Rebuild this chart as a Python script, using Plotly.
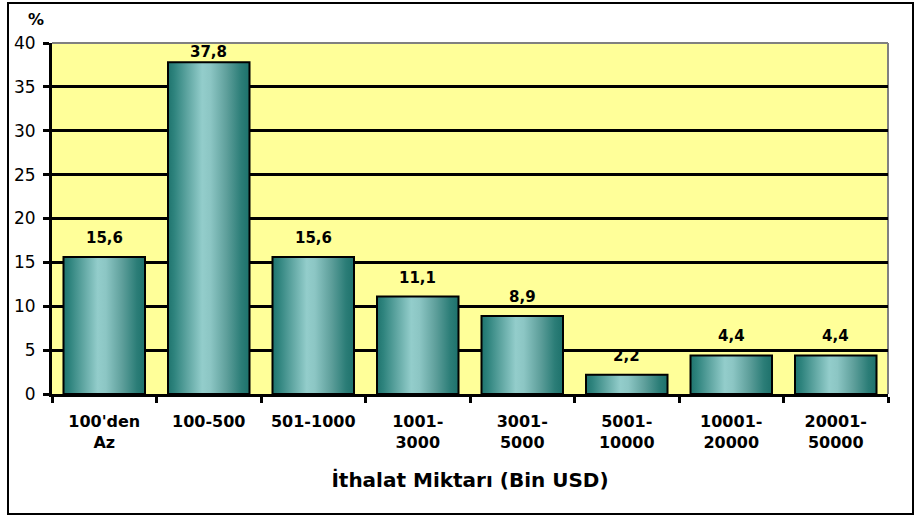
import plotly.graph_objects as go

# Import amount bands (thousand USD) and their share of firms (%)
categories = ["100'den<br>Az", "100-500", "501-1000", "1001-<br>3000", "3001-<br>5000",
              "5001-<br>10000", "10001-<br>20000", "20001-<br>50000"]
shares = [15.6, 37.8, 15.6, 11.1, 8.9, 2.2, 4.4, 4.4]
y_ticks = [0, 5, 10, 15, 20, 25, 30, 35, 40]

W, H = 914, 516
FONT = "DejaVu Sans"
BAR_W = 0.78

# Cylinder-like teal shading across each bar
teal_scale = [
    [0.0, "#1f746e"], [0.08, "#2f847e"], [0.25, "#62a8a4"], [0.42, "#93cdcb"],
    [0.52, "#8cc6c4"], [0.72, "#5e9f9b"], [0.9, "#2b7d77"], [1.0, "#1d716b"],
]

fig = go.Figure()

for i, v in enumerate(shares):
    x0, x1 = i - BAR_W / 2, i + BAR_W / 2
    fig.add_trace(go.Scatter(
        x=[x0, x0, x1, x1, x0], y=[0, v, v, 0, 0],
        mode="lines", fill="toself",
        fillgradient=dict(type="horizontal", colorscale=teal_scale),
        line=dict(color="black", width=2),
        hoverinfo="skip", showlegend=False,
    ))

# Value labels with decimal comma
for i, v in enumerate(shares):
    fig.add_annotation(
        x=i, y=v, xref="x", yref="y",
        text=f"{v:.1f}".replace(".", ","),
        showarrow=False, yshift=10 if v > 36 else 19,
        font=dict(family=FONT, size=15, color="black", weight="bold"),
    )

x_dom = [52 / W, 888 / W]
y_dom = [(H - 394) / H, (H - 43) / H]

fig.update_layout(
    width=W, height=H,
    margin=dict(l=0, r=0, t=0, b=0, pad=0),
    paper_bgcolor="white",
    plot_bgcolor="#ffff99",
    font=dict(family=FONT, color="black"),
    xaxis=dict(
        domain=x_dom, range=[-0.5, len(shares) - 0.5], automargin=False,
        tickmode="array", tickvals=list(range(len(shares))), ticktext=categories,
        ticks="", showgrid=False, zeroline=False, ticklabelstandoff=11,
        showline=True, linecolor="black", linewidth=3,
        tickfont=dict(family=FONT, size=16, color="black", weight="bold"),
        minor=dict(tickmode="linear", tick0=0.5, dtick=1, ticks="outside",
                   ticklen=6, tickwidth=3, tickcolor="black", showgrid=False),
        title=dict(text="İthalat Miktarı (Bin USD)", standoff=22,
                   font=dict(family=FONT, size=20, color="black", weight="bold")),
        fixedrange=True,
    ),
    yaxis=dict(
        domain=y_dom, range=[0, 40], automargin=False,
        tickmode="array", tickvals=y_ticks,
        ticks="outside", ticklen=6, tickwidth=3, tickcolor="black",
        showgrid=True, gridcolor="black", gridwidth=2.6,
        zeroline=False, showline=True, linecolor="black", linewidth=3,
        tickfont=dict(family=FONT, size=17, color="black"), ticklabelstandoff=4,
        fixedrange=True,
    ),
    shapes=[
        # outer frame
        dict(type="rect", xref="paper", yref="paper",
             x0=8 / W, x1=913 / W, y0=(H - 514) / H, y1=(H - 3) / H,
             line=dict(color="black", width=2), fillcolor="rgba(0,0,0,0)", layer="above"),
        # grey top and right edges of the plot area
        dict(type="line", xref="paper", yref="paper",
             x0=x_dom[0], x1=x_dom[1], y0=y_dom[1], y1=y_dom[1],
             line=dict(color="#808080", width=2), layer="below"),
        dict(type="line", xref="paper", yref="paper",
             x0=x_dom[1], x1=x_dom[1], y0=y_dom[0], y1=y_dom[1],
             line=dict(color="#808080", width=2), layer="below"),
    ],
    annotations=list(fig.layout.annotations) + [
        dict(text="%", xref="paper", yref="paper", x=36 / W, y=(H - 20) / H,
             showarrow=False, xanchor="center", yanchor="middle",
             font=dict(family=FONT, size=16, color="black", weight="bold")),
    ],
)

fig.write_html("out.html")
